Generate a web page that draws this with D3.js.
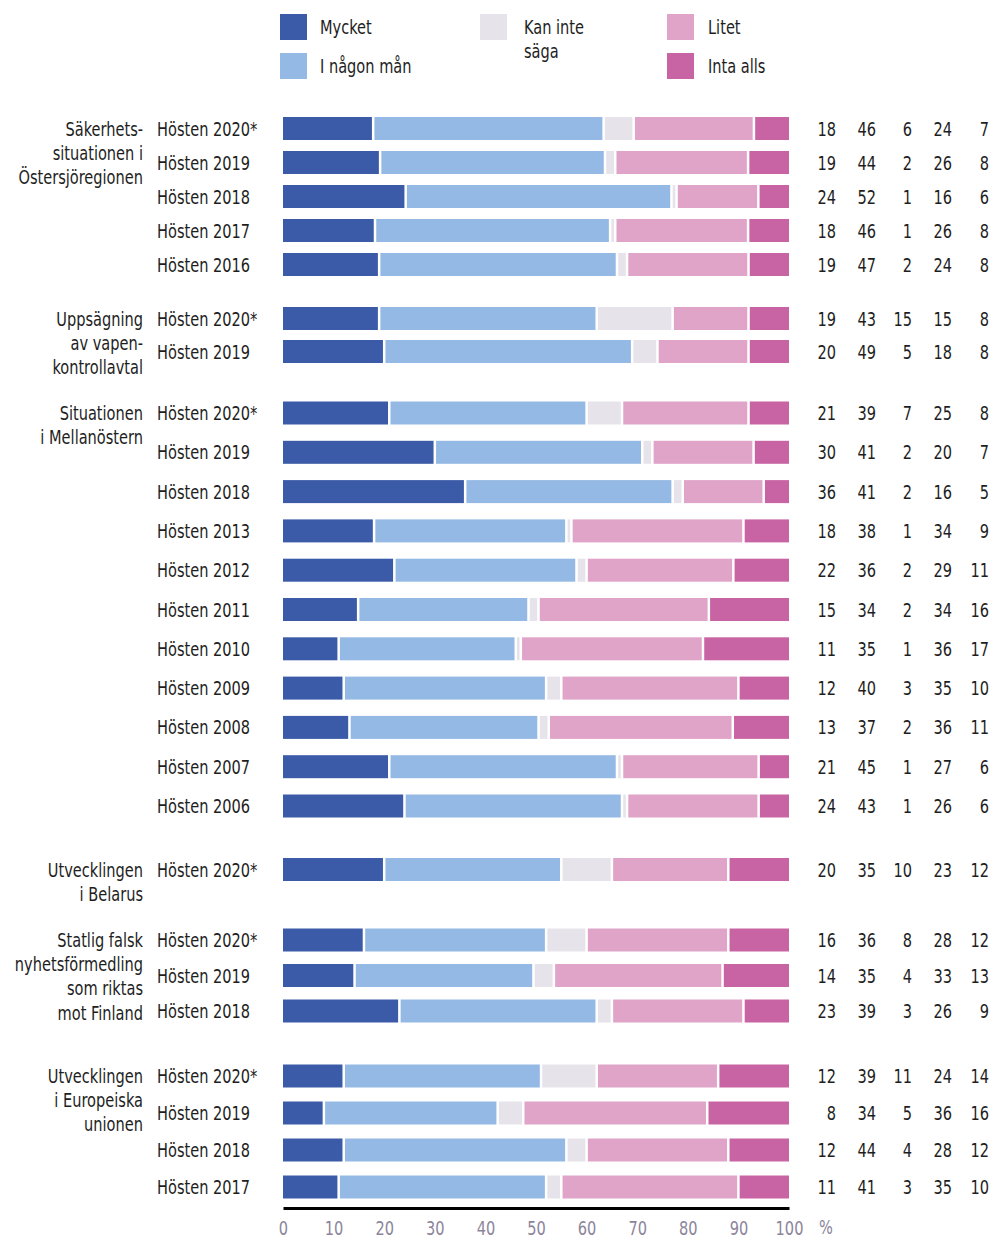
<!DOCTYPE html>
<html>
<head>
<meta charset="utf-8">
<script src="https://cdn.jsdelivr.net/npm/d3@7"></script>
<style>
  html, body { margin: 0; padding: 0; background: #fff; }
  svg { display: block; font-family: "DejaVu Sans Condensed", "DejaVu Sans", sans-serif; }
</style>
</head>
<body>
<svg id="chart" width="993" height="1239"></svg>
<script>
// Topics (line breaks marked with "|")
const topics = [
  "Säkerhets-|situationen i|Östersjöregionen",
  "Uppsägning|av vapen-|kontrollavtal",
  "Situationen|i Mellanöstern",
  "Utvecklingen|i Belarus",
  "Statlig falsk|nyhetsförmedling|som riktas|mot Finland",
  "Utvecklingen|i Europeiska|unionen"
];

// Survey rounds per topic
const periods = [
  ["Hösten 2020*", "Hösten 2019", "Hösten 2018", "Hösten 2017", "Hösten 2016"],
  ["Hösten 2020*", "Hösten 2019"],
  ["Hösten 2020*", "Hösten 2019", "Hösten 2018", "Hösten 2013", "Hösten 2012", "Hösten 2011",
   "Hösten 2010", "Hösten 2009", "Hösten 2008", "Hösten 2007", "Hösten 2006"],
  ["Hösten 2020*"],
  ["Hösten 2020*", "Hösten 2019", "Hösten 2018"],
  ["Hösten 2020*", "Hösten 2019", "Hösten 2018", "Hösten 2017"]
];

// Answer categories
const categories = ["Mycket", "I någon mån", "Kan inte|säga", "Litet", "Inta alls"];

// Percent values, one entry per row in the order above
const mycket      = [18, 19, 24, 18, 19,  19, 20,  21, 30, 36, 18, 22, 15, 11, 12, 13, 21, 24,  20,  16, 14, 23,  12, 8, 12, 11];
const iNagonMan   = [46, 44, 52, 46, 47,  43, 49,  39, 41, 41, 38, 36, 34, 35, 40, 37, 45, 43,  35,  36, 35, 39,  39, 34, 44, 41];
const kanInteSaga = [6, 2, 1, 1, 2,       15, 5,   7, 2, 2, 1, 2, 2, 1, 3, 2, 1, 1,           10,  8, 4, 3,     11, 5, 4, 3];
const litet       = [24, 26, 16, 26, 24,  15, 18,  25, 20, 16, 34, 29, 34, 36, 35, 36, 27, 26,  23,  28, 33, 26,  24, 36, 28, 35];
const intaAlls    = [7, 8, 6, 8, 8,       8, 8,    8, 7, 5, 9, 11, 16, 17, 10, 11, 6, 6,      12,  12, 13, 9,   14, 16, 12, 10];

// Axis ticks
const xTicks = [0, 10, 20, 30, 40, 50, 60, 70, 80, 90, 100];

const colors = ["#3b5ba8", "#94b9e4", "#e6e3ea", "#e0a4c9", "#c964a4"];

// ---- layout ----
const svg = d3.select("#chart");
const textColor = "#1e1e1e";
const axisColor = "#8c859b";
const fontSize = 20;
const condense = 0.81;       // horizontal squeeze for a narrow typeface look
const barH = 23;
const groupFirstY = [128.5, 318.5, 413, 869.5, 940, 1076];
const groupPitch  = [34, 33, 39.3, 0, 35.5, 37];
const numRight = [836, 876, 912, 952, 989];

const x = d3.scaleLinear().domain([0, 100]).range([283, 789]);

// Build rows
const series = [mycket, iNagonMan, kanInteSaga, litet, intaAlls];
const rows = [];
let idx = 0;
periods.forEach((plist, g) => {
  const y = d3.scalePoint()
    .domain(plist)
    .range([groupFirstY[g], groupFirstY[g] + groupPitch[g] * (plist.length - 1)]);
  plist.forEach(p => {
    const vals = series.map(s => s[idx]);
    rows.push({ group: g, period: p, vals, cy: y(p) });
    idx++;
  });
});

// Bars: segments scaled to the row total, thin white gaps between them
const gap = 1.25;
const barG = svg.append("g");
rows.forEach(r => {
  const total = d3.sum(r.vals);
  let acc = 0;
  const segs = r.vals.map((v, i) => {
    const s = { i, x0: acc / total * 100, x1: (acc + v) / total * 100 };
    acc += v;
    return s;
  });
  barG.selectAll(null)
    .data(segs)
    .join("rect")
    .attr("x", d => x(d.x0) + (d.i > 0 ? gap : 0))
    .attr("y", r.cy - barH / 2)
    .attr("width", d => Math.max(0, x(d.x1) - x(d.x0) - (d.i > 0 ? gap : 0) - (d.i < 4 ? gap : 0)))
    .attr("height", barH)
    .attr("fill", d => colors[d.i]);
});

// Period labels
svg.append("g").selectAll("text")
  .data(rows)
  .join("text")
  .attr("x", 157)
  .attr("y", d => d.cy + 7)
  .attr("font-size", fontSize)
  .attr("fill", textColor)
  .text(d => d.period);

// Value columns
const numG = svg.append("g");
rows.forEach(r => {
  numG.selectAll(null)
    .data(r.vals)
    .join("text")
    .attr("x", (d, i) => numRight[i])
    .attr("y", r.cy + 7)
    .attr("text-anchor", "end")
    .attr("font-size", fontSize)
    .attr("fill", textColor)
    .text(d => d);
});

// Topic labels, one text per line
const topicLines = [];
topics.forEach((t, g) => t.split("|").forEach((line, i) => topicLines.push({ g, i, line })));
svg.append("g").selectAll("text")
  .data(topicLines)
  .join("text")
  .attr("x", 143)
  .attr("y", d => groupFirstY[d.g] + 7 + d.i * 24.2)
  .attr("text-anchor", "end")
  .attr("font-size", fontSize)
  .attr("fill", textColor)
  .text(d => d.line);

// X axis
const axisY = 1208;
const axis = svg.append("g")
  .attr("transform", `translate(0,${axisY})`)
  .call(d3.axisBottom(x).tickValues(xTicks).tickSize(0).tickPadding(13).tickFormat(d3.format("d")));
axis.select(".domain").attr("stroke", "#000").attr("stroke-width", 3);
axis.selectAll("text")
  .attr("font-size", fontSize)
  .attr("fill", axisColor);
axis.attr("font-family", null).attr("font-size", null);
svg.append("text")
  .attr("x", 826)
  .attr("y", 1234)
  .attr("text-anchor", "middle")
  .attr("font-size", fontSize)
  .attr("fill", axisColor)
  .text("%");

// Legend
const legendPos = [
  { x: 280, y: 14 }, { x: 280, y: 53 }, { x: 480, y: 14 }, { x: 667, y: 14 }, { x: 667, y: 53 }
];
const textOffset = [40, 40, 44, 41, 41];
const lg = svg.append("g").selectAll("g")
  .data(categories)
  .join("g")
  .attr("transform", (d, i) => `translate(${legendPos[i].x},${legendPos[i].y})`);
lg.append("rect")
  .attr("width", 27)
  .attr("height", 26)
  .attr("fill", (d, i) => colors[i]);
lg.each(function (d, i) {
  d3.select(this).selectAll("text")
    .data(d.split("|"))
    .join("text")
    .attr("x", textOffset[i])
    .attr("y", (line, k) => 20 + k * 24)
    .attr("font-size", fontSize)
    .attr("fill", textColor)
    .text(line => line);
});

// Narrow every label horizontally
svg.selectAll("text").each(function () {
  const w = this.getComputedTextLength();
  if (w > 0) {
    d3.select(this)
      .attr("textLength", w * condense)
      .attr("lengthAdjust", "spacingAndGlyphs");
  }
});
</script>
</body>
</html>
